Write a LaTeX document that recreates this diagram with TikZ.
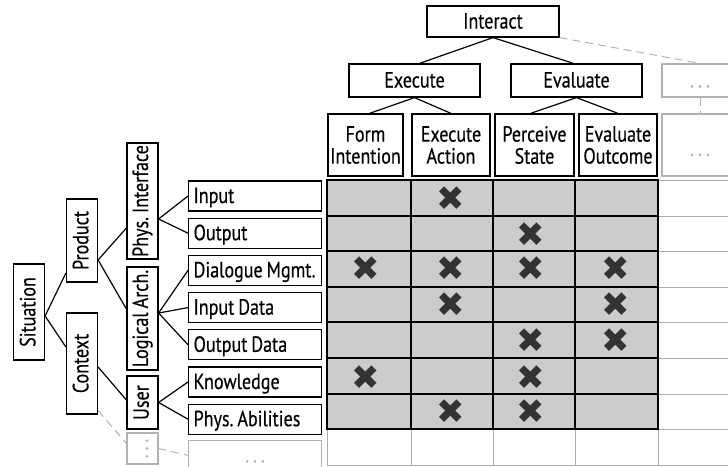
\documentclass[tikz,border=0pt]{standalone}
\usepackage{fontspec}
\setmainfont[FakeStretch=0.82, FakeBold=0.4]{PT Sans}
\newfontfamily\symbolfont{DejaVu Sans}
\usepackage{tikz}
\usetikzlibrary{positioning}
\newcommand{\rottext}[1]{\rotatebox{90}{\rule[-3pt]{0pt}{17pt}#1}}
\frenchspacing

\begin{document}
\begin{tikzpicture}
	[x=1pt, y=-1pt, node distance=6pt, line width=1.2pt, font={\fontsize{22}{22}\selectfont\spaceskip=4pt plus 1pt minus 1pt\relax},
	box/.style = {draw, inner sep=0pt, text height=17pt, text depth=3pt},
	head/.style = {draw, inner sep=0pt, align=center, minimum height=62pt},
	side/.style = {draw, inner sep=0pt, minimum width=31pt},
	leaf/.style = {draw, inner xsep=5pt, inner ysep=0pt, text width=123pt, align=flush left, minimum height=30pt, text height=17pt, text depth=3pt},
	faded/.style = {draw=gray!60, text=gray!60},
	fadedline/.style = {gray!60, line width=1pt, dash pattern=on 8pt off 5pt},
	cross/.style = {text=black!80, font=\symbolfont\fontsize{34}{34}\selectfont, inner sep=0pt}]
	\useasboundingbox (0,0) rectangle (728,466);
	\clip (0,0) rectangle (728,466);
	\fill[gray!40] (327,180) rectangle (658,429);
	\draw[gray!65, line width=1pt] (658,180) -- (740,180) (658,216) -- (740,216) (658,251) -- (740,251) (658,287) -- (740,287) (658,322) -- (740,322) (658,358) -- (740,358) (658,394) -- (740,394) (658,429) -- (740,429) (327,465) -- (740,465);
	\draw[gray!65, line width=1pt] (327,429) -- (327,465) (411,429) -- (411,465) (493,429) -- (493,465) (575,429) -- (575,465) (658,429) -- (658,465);
	\draw (327,180) rectangle (658,429);
	\draw (411,180) -- (411,429) (493,180) -- (493,429) (575,180) -- (575,429);
	\draw (327,216) -- (658,216) (327,251) -- (658,251) (327,287) -- (658,287) (327,322) -- (658,322) (327,358) -- (658,358) (327,394) -- (658,394);
	\node[box, minimum width=132pt, minimum height=31pt] (interact) at (493,21.5) {Interact};
	\node[box, minimum width=131pt, minimum height=33pt] (execute) at (414.5,80.5) {Execute};
	\node[box, minimum width=131pt, minimum height=33pt] (evaluate) at (576.5,80.5) {Evaluate};
	\node[box, faded, minimum width=76pt, minimum height=33pt] (more) at (700,80.5) {. . .};
	\node[head, minimum width=75pt] (form) at (365.5,145) {Form\\Intention};
	\node[head, minimum width=78pt] (action) at (451,145) {Execute\\Action};
	\node[head, minimum width=79pt] (perceive) at (534.5,145) {Perceive\\State};
	\node[head, minimum width=78pt] (outcome) at (618,145) {Evaluate\\Outcome};
	\node[head, faded, align=flush center, minimum width=76pt] (moresub) at (700,145) {~\\. . .};
	\node[side, minimum height=96pt] (situation) at (29,312) {\rottext{Situation}};
	\node[side, minimum height=83pt] (product) at (82,240.5) {\rottext{Product}};
	\node[side, minimum height=101pt] (context) at (82,363.5) {\rottext{Context}};
	\node[side, minimum height=116pt] (physif) at (142.5,201) {\rottext{Phys. Interface}};
	\node[side, minimum height=103pt] (logical) at (142.5,318.5) {\rottext{Logical Arch.}};
	\node[side, minimum height=53pt] (user) at (142.5,402.5) {\rottext{User}};
	\node[side, faded, minimum height=31pt] (vdots) at (142.5,448.5) {\rottext{. . .}};
	\node[leaf, anchor=west] (input) at (188,196) {Input};
	\node[leaf, below=of input] (output) {Output};
	\node[leaf, below=of output] (dialogue) {\mbox{Dialogue Mgmt.}};
	\node[leaf, below=of dialogue] (indata) {Input Data};
	\node[leaf, below=of indata] (outdata) {Output Data};
	\node[leaf, below=of outdata] (knowledge) {Knowledge};
	\node[leaf, below=of knowledge] (abilities) {Phys. Abilities};
	\node[leaf, faded, align=flush center, below=5pt of abilities] (moreleaf) {. . .};
	\node[cross] (c12) at (451,199) {✖};
	\node[cross] (c23) at (531,235) {✖};
	\node[cross] (c31) at (366,269) {✖};
	\node[cross] (c32) at (451,269) {✖};
	\node[cross] (c33) at (531,269) {✖};
	\node[cross] (c34) at (616,269) {✖};
	\node[cross] (c42) at (451,305) {✖};
	\node[cross] (c44) at (616,305) {✖};
	\node[cross] (c53) at (531,341) {✖};
	\node[cross] (c54) at (616,341) {✖};
	\node[cross] (c61) at (366,378) {✖};
	\node[cross] (c63) at (531,378) {✖};
	\node[cross] (c72) at (451,412) {✖};
	\node[cross] (c73) at (531,412) {✖};
	\draw (interact.south) -- ([xshift=5pt]execute.north);
	\draw (interact.south) -- ([xshift=-3pt]evaluate.north);
	\draw[fadedline] (interact.south east) -- (more.north);
	\draw (execute.south) -- ([xshift=4pt]form.north);
	\draw (execute.south) -- (action.north);
	\draw (evaluate.south) -- ([xshift=-4pt]perceive.north);
	\draw (evaluate.south) -- (outcome.north);
	\draw[fadedline] (more.south) -- (moresub.north);
	\draw ([yshift=-4pt]situation.east) -- ([yshift=-32.5pt]product.west);
	\draw ([yshift=-4pt]situation.east) -- ([yshift=16.5pt]context.west);
	\draw ([yshift=-19.5pt]product.east) -- ([yshift=-27pt]physif.west);
	\draw ([yshift=-19.5pt]product.east) -- ([yshift=9.5pt]logical.west);
	\draw ([yshift=-3.5pt]context.east) -- ([yshift=2.5pt]user.west);
	\draw[fadedline] ([yshift=4pt]context.south east) -- ([yshift=5pt]vdots.west);
	\draw ([yshift=-18pt]physif.east) -- (input.west);
	\draw ([yshift=-18pt]physif.east) -- (output.west);
	\draw ([yshift=5.5pt]logical.east) -- (dialogue.west);
	\draw ([yshift=5.5pt]logical.east) -- (indata.west);
	\draw ([yshift=5.5pt]logical.east) -- (outdata.west);
	\draw (user.east) -- (knowledge.west);
	\draw (user.east) -- (abilities.west);
	\draw[fadedline] (vdots.east) -- (moreleaf.west);
\end{tikzpicture}
\end{document}
